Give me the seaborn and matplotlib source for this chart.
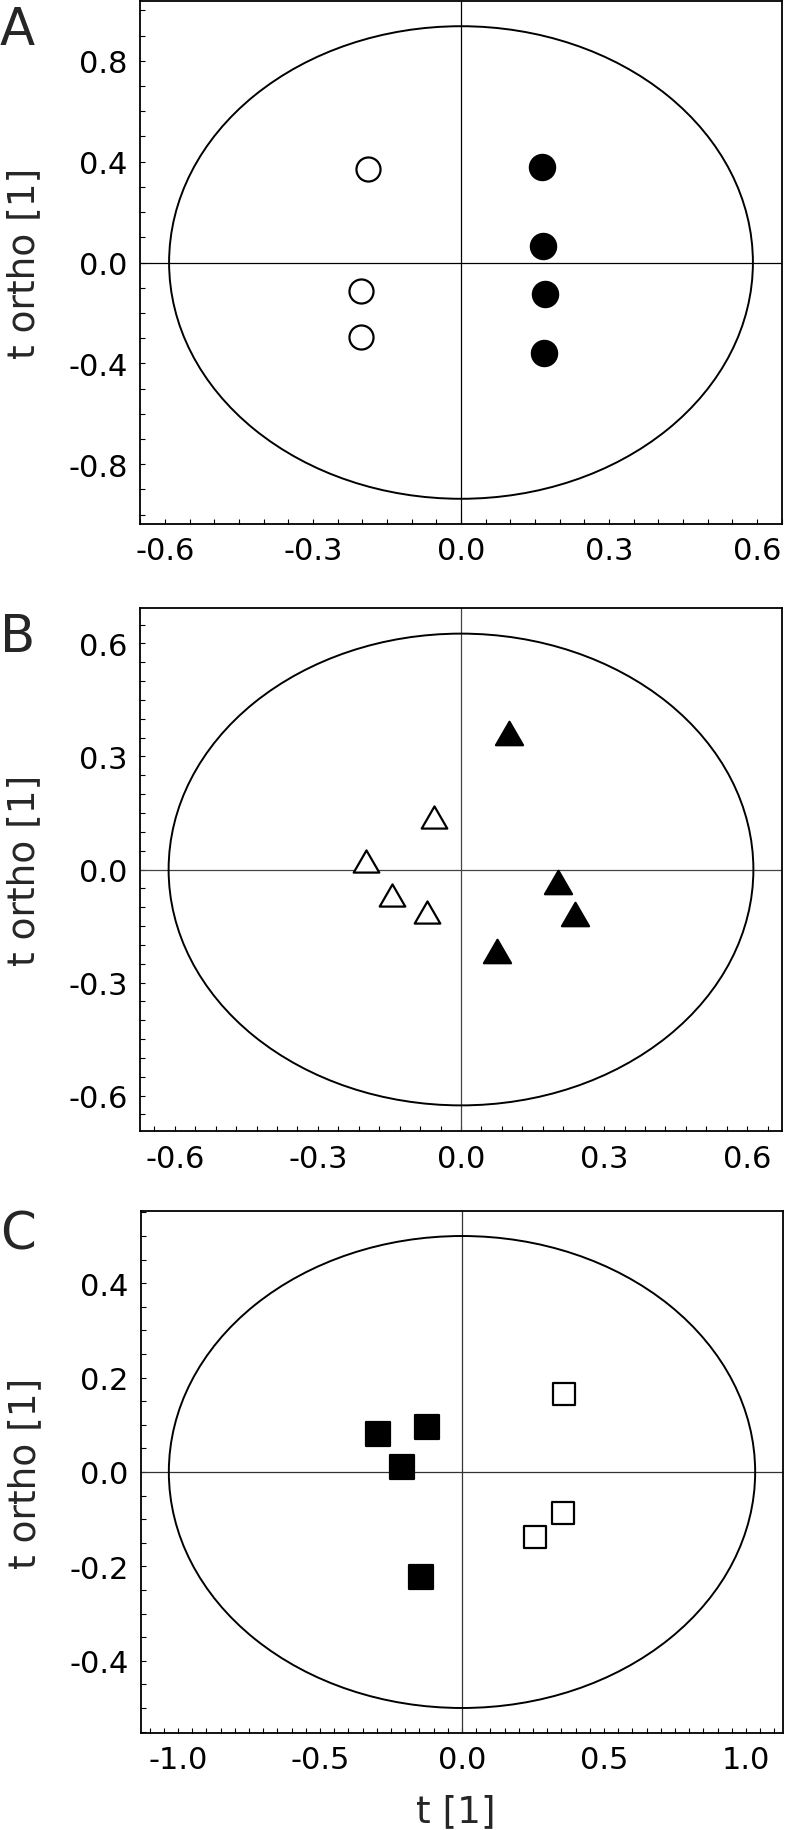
import seaborn as sns
import matplotlib.pyplot as plt
import numpy as np
from matplotlib.patches import Ellipse
from matplotlib.markers import MarkerStyle
from matplotlib.path import Path
from matplotlib.ticker import MultipleLocator, FuncFormatter

# ---- Panel A : circles ----
a_open_t = [-0.189, -0.202, -0.203]
a_open_to = [0.370, -0.113, -0.294]
a_fill_t = [0.164, 0.166, 0.171, 0.168]
a_fill_to = [0.378, 0.065, -0.126, -0.357]
a_ellipse = (0.592, 0.937)          # half axes (t, t ortho)

# ---- Panel B : triangles ----
b_open_t = [-0.057, -0.199, -0.144, -0.071]
b_open_to = [0.139, 0.023, -0.068, -0.114]
b_fill_t = [0.101, 0.204, 0.240, 0.075]
b_fill_to = [0.361, -0.033, -0.119, -0.217]
b_ellipse = (0.613, 0.626)

# ---- Panel C : squares ----
c_fill_t = [-0.296, -0.122, -0.210, -0.145]
c_fill_to = [0.081, 0.095, 0.010, -0.222]
c_open_t = [0.359, 0.357, 0.257]
c_open_to = [0.165, -0.087, -0.137]
c_ellipse = (1.032, 0.500)

sns.set_theme(style='white')
plt.rcParams['font.family'] = ['DejaVu Sans']
plt.rcParams['axes.unicode_minus'] = False

W, H = 790, 1831
fig = plt.figure(figsize=(W / 100, H / 100), dpi=100)

# triangulo equilatero (centro en la caja)
tri = MarkerStyle(Path([(-1, -0.866), (1, -0.866), (0, 0.866), (-1, -0.866)],
                       [Path.MOVETO, Path.LINETO, Path.LINETO, Path.CLOSEPOLY]))


def fmt(v, pos):
    v = round(v, 1)
    return f'{0.0 if v == 0 else v:.1f}'


def make_axes(l, t, r, b):
    return fig.add_axes([l / W, 1 - b / H, (r - l) / W, (b - t) / H])


def draw_panel(ax, groups, ell, xlim, ylim, xmaj, xmin, ymaj, ymin, cross_col):
    # cruz en el origen y elipse de Hotelling
    ax.axhline(0, color=cross_col, lw=0.9, zorder=1)
    ax.axvline(0, color=cross_col, lw=0.9, zorder=1)
    ax.add_patch(Ellipse((0, 0), 2 * ell[0], 2 * ell[1], fill=False,
                         edgecolor='black', lw=1.4, zorder=2))
    for x, y, marker, face, size in groups:
        sns.scatterplot(x=x, y=y, marker=marker, s=size, color=face,
                        edgecolor='black', linewidth=1.6, ax=ax, zorder=3)
    ax.set_xlim(*xlim)
    ax.set_ylim(*ylim)
    ax.xaxis.set_major_locator(MultipleLocator(xmaj))
    ax.xaxis.set_minor_locator(MultipleLocator(xmin))
    ax.yaxis.set_major_locator(MultipleLocator(ymaj))
    ax.yaxis.set_minor_locator(MultipleLocator(ymin))
    ax.xaxis.set_major_formatter(FuncFormatter(fmt))
    ax.yaxis.set_major_formatter(FuncFormatter(fmt))
    ax.tick_params(which='both', direction='in', length=3.5, width=0.8,
                   left=True, bottom=True, top=False, right=False,
                   labelsize=22, pad=9, colors='black')
    for sp in ax.spines.values():
        sp.set_color('black')
        sp.set_linewidth(1.3)
    ax.set_ylabel('t ortho [1]', fontsize=27)
    ax.yaxis.set_label_coords(-0.153, 0.5)
    ax.set_xlabel('')


axA = make_axes(140, 2, 782, 525)
draw_panel(axA,
           [(a_open_t, a_open_to, 'o', 'white', 300),
            (a_fill_t, a_fill_to, 'o', 'black', 330)],
           a_ellipse, (-0.651, 0.651), (-1.037, 1.037),
           0.3, 0.05, 0.4, 0.1, 'black')

axB = make_axes(140, 609, 782, 1132)
draw_panel(axB,
           [(b_open_t, b_open_to, tri, 'white', 340),
            (b_fill_t, b_fill_to, tri, 'black', 380)],
           b_ellipse, (-0.673, 0.673), (-0.694, 0.694),
           0.3, 0.3 / 7, 0.3, 0.05, '#444444')

axC = make_axes(141, 1212, 783, 1734)
draw_panel(axC,
           [(c_fill_t, c_fill_to, 's', 'black', 300),
            (c_open_t, c_open_to, 's', 'white', 270)],
           c_ellipse, (-1.13, 1.13), (-0.553, 0.553),
           0.5, 0.05, 0.2, 0.05, '#333333')
axC.set_xlabel('t [1]', fontsize=27)
axC.xaxis.set_label_coords(0.49, -0.115)

# letras de panel
for letter, top in [('A', 6), ('B', 613), ('C', 1211)]:
    fig.text(0.0, 1 - top / H, letter, fontsize=37, va='top', ha='left')

fig.savefig('out.png', dpi=100)
